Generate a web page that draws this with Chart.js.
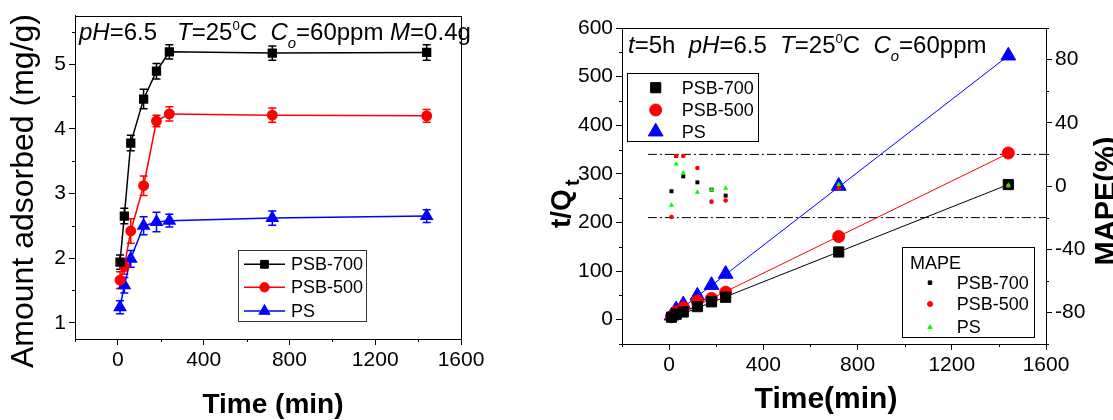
<!DOCTYPE html>
<html>
<head>
<meta charset="utf-8">
<script src="https://cdn.jsdelivr.net/npm/chart.js@4.4.1/dist/chart.umd.min.js"></script>
<style>
  body { margin: 0; background: #fff; width: 1113px; height: 420px; overflow: hidden; position: relative; }
  #left { position: absolute; left: 0; top: 0; }
  #right { position: absolute; left: 540px; top: 0; }
</style>
</head>
<body>
<canvas id="left" width="500" height="420"></canvas>
<canvas id="right" width="573" height="420"></canvas>
<script>
// sampling times (min)
const times = [10, 30, 60, 120, 180, 240, 720, 1440];

// left panel: amount adsorbed (mg/g) and error bars
const q700 = [1.94, 2.65, 3.78, 4.46, 4.89, 5.19, 5.17, 5.18];
const q500 = [1.66, 1.87, 2.42, 3.12, 4.12, 4.23, 4.21, 4.20];
const qPS  = [1.24, 1.58, 1.99, 2.50, 2.56, 2.58, 2.62, 2.65];
const err700 = [0.11, 0.12, 0.12, 0.15, 0.12, 0.11, 0.11, 0.12];
const err500 = [0.13, 0.12, 0.19, 0.15, 0.09, 0.11, 0.11, 0.10];
const errPS  = [0.10, 0.12, 0.13, 0.14, 0.15, 0.10, 0.11, 0.10];

// right panel: t/Qt
const tq700 = [5.2, 11.3, 15.9, 26.9, 36.8, 46.2, 139.3, 278.0];
const tq500 = [6.0, 16.0, 24.8, 38.5, 43.7, 56.7, 171.0, 342.9];
const tqPS  = [8.1, 21.0, 31.0, 49.0, 71.0, 94.0, 275.0, 543.0];

// linear fits (end points)
const fitT = [0, 1440];
const fit700 = [1, 278];
const fit500 = [1, 342];
const fitPS  = [3, 543];

// MAPE (%)
const mape700 = [-3.3, 19, 6.1, 2.3, -2.3, -6.1, 0, 0];
const mape500 = [-19.6, 19, 19, 11.4, -9.9, -9.2, -1.2, 0];
const mapePS  = [-12.2, 13.9, 8.2, -4, -2.3, -1.5, 0.9, 0.5];
const mapeBandT = [-90, 1600];
const mapeBand = [20, -20];

// ticks
const timeTicks = [0, 400, 800, 1200, 1600];
const timeMinor = [-200, 200, 600, 1000, 1400];
const qTicks = [1, 2, 3, 4, 5];
const qMinor = [1.5, 2.5, 3.5, 4.5, 5.5];
const tqTicks = [0, 100, 200, 300, 400, 500, 600];
const tqMinor = [-50, 50, 150, 250, 350, 450, 550];
const mapeTicks = [-80, -40, 0, 40, 80];
const mapeMinor = [-100, -60, -20, 20, 60, 100];

const fam = '"Liberation Sans", Arial, sans-serif';

function pts(xs, ys) {
  return xs.map((x, i) => ({ x: x, y: ys[i] }));
}

// draws text made of runs (italic / superscript / subscript)
function drawRuns(ctx, x, y, parts, size) {
  let cx = x;
  parts.forEach(p => {
    let s = size, dy = 0;
    if (p.sup) { s = size * 0.55; dy = -size * 0.42; }
    if (p.sub) { s = size * 0.62; dy = size * 0.35; }
    ctx.font = (p.it ? 'italic ' : '') + s + 'px ' + fam;
    ctx.fillText(p.t, cx, y + dy);
    cx += ctx.measureText(p.t).width;
  });
  return cx;
}

function axis(min, max, ticks, extra) {
  return Object.assign({
    type: 'linear', min: min, max: max,
    afterBuildTicks: s => { s.ticks = ticks.map(v => ({ value: v })); },
    ticks: { color: '#000', font: { family: fam, size: 21 }, padding: 3, autoSkip: false, maxRotation: 0, callback: v => String(v) },
    grid: { drawOnChartArea: false, tickLength: 6, color: '#000', tickColor: '#000', tickWidth: 1 },
    border: { color: '#000', width: 1 }
  }, extra);
}

// frame + minor ticks
const framePlugin = {
  id: 'frame',
  afterDraw(chart, args, opts) {
    const ctx = chart.ctx, a = chart.chartArea;
    ctx.save();
    ctx.strokeStyle = '#000';
    ctx.lineWidth = 1;
    ctx.strokeRect(Math.round(a.left) + 0.5, Math.round(a.top) + 0.5, Math.round(a.right - a.left), Math.round(a.bottom - a.top));
    (opts.minor || []).forEach(m => {
      const sc = chart.scales[m.id];
      m.values.forEach(v => {
        const p = Math.round(sc.getPixelForValue(v)) + 0.5;
        ctx.beginPath();
        if (m.id === 'x') { ctx.moveTo(p, a.bottom); ctx.lineTo(p, a.bottom + 3); }
        else if (sc.position === 'left') { ctx.moveTo(a.left, p); ctx.lineTo(a.left - 3, p); }
        else { ctx.moveTo(a.right, p); ctx.lineTo(a.right + 3, p); }
        ctx.stroke();
      });
    });
    ctx.restore();
  }
};

// error bars for the left panel
const errPlugin = {
  id: 'errbars',
  beforeDatasetsDraw(chart) {
    const ctx = chart.ctx, xs = chart.scales.x, ys = chart.scales.y;
    ctx.save();
    chart.data.datasets.forEach(ds => {
      if (!ds.err) return;
      ctx.strokeStyle = ds.borderColor;
      ctx.lineWidth = 1.5;
      ds.data.forEach((p, i) => {
        const px = xs.getPixelForValue(p.x);
        const y1 = ys.getPixelForValue(p.y + ds.err[i]);
        const y2 = ys.getPixelForValue(p.y - ds.err[i]);
        ctx.beginPath();
        ctx.moveTo(px, y1); ctx.lineTo(px, y2);
        ctx.moveTo(px - 4, y1); ctx.lineTo(px + 4, y1);
        ctx.moveTo(px - 4, y2); ctx.lineTo(px + 4, y2);
        ctx.stroke();
      });
    });
    ctx.restore();
  }
};

function marker(ctx, ds, x, y, r) {
  ctx.fillStyle = ds.backgroundColor;
  ctx.strokeStyle = ds.borderColor;
  ctx.lineWidth = 1;
  Chart.helpers.drawPoint(ctx, { pointStyle: ds.pointStyle, radius: r || ds.pointRadius, borderWidth: 1, rotation: 0 }, x, y);
}

// left panel texts + legend
const leftDeco = {
  id: 'leftDeco',
  afterDraw(chart) {
    const ctx = chart.ctx;
    ctx.save();
    ctx.fillStyle = '#000';
    ctx.textBaseline = 'alphabetic';
    ctx.textAlign = 'left';
    drawRuns(ctx, 79, 40, [
      { t: 'pH', it: 1 }, { t: '=6.5   ' }, { t: 'T', it: 1 }, { t: '=25' }, { t: '0', sup: 1 }, { t: 'C  ' },
      { t: 'C', it: 1 }, { t: 'o', it: 1, sub: 1 }, { t: '=60ppm ' }, { t: 'M', it: 1 }, { t: '=0.4g' }
    ], 24);

    // legend
    ctx.strokeStyle = '#333';
    ctx.lineWidth = 1;
    ctx.strokeRect(238.5, 250.5, 128, 71);
    const rows = [264.3, 287.3, 311];
    chart.data.datasets.forEach((ds, i) => {
      ctx.strokeStyle = ds.borderColor;
      ctx.lineWidth = 1.5;
      ctx.beginPath(); ctx.moveTo(244, rows[i]); ctx.lineTo(285, rows[i]); ctx.stroke();
      marker(ctx, ds, 264.5, rows[i]);
      ctx.fillStyle = '#000';
      ctx.font = '18px ' + fam;
      ctx.textBaseline = 'middle';
      ctx.fillText(ds.label, 291, rows[i] + 1);
    });

    // axis titles
    ctx.textBaseline = 'middle';
    ctx.textAlign = 'center';
    ctx.font = 'bold 28px ' + fam;
    ctx.fillText('Time (min)', 273, 405);
    ctx.translate(24, 191);
    ctx.rotate(-Math.PI / 2);
    ctx.font = '32px ' + fam;
    ctx.fillText('Amount adsorbed (mg/g)', 0, 0);
    ctx.restore();
  }
};

new Chart(document.getElementById('left'), {
  type: 'line',
  data: {
    datasets: [
      { label: 'PSB-700', data: pts(times, q700), err: err700, borderColor: '#000', backgroundColor: '#000', pointStyle: 'rect', pointRadius: 5.5, borderWidth: 1.5, tension: 0 },
      { label: 'PSB-500', data: pts(times, q500), err: err500, borderColor: '#ff0000', backgroundColor: '#ff0000', pointStyle: 'circle', pointRadius: 4.7, borderWidth: 1.5, tension: 0 },
      { label: 'PS', data: pts(times, qPS), err: errPS, borderColor: '#0000ff', backgroundColor: '#0000ff', pointStyle: 'triangle', pointRadius: 6.5, borderWidth: 1.5, tension: 0 }
    ]
  },
  options: {
    responsive: false,
    animation: false,
    layout: { padding: { top: 13, right: 39, left: 0, bottom: 0 } },
    plugins: { legend: { display: false }, tooltip: { enabled: false }, frame: { minor: [{ id: 'x', values: timeMinor }, { id: 'y', values: qMinor }] } },
    scales: {
      x: axis(-200, 1600, timeTicks, { afterFit: s => { s.height = 81; } }),
      y: axis(0.75, 5.75, qTicks, { afterFit: s => { s.width = 75; } })
    }
  },
  plugins: [errPlugin, framePlugin, leftDeco]
});

// right panel texts + legends
const rightDeco = {
  id: 'rightDeco',
  afterDraw(chart) {
    const ctx = chart.ctx;
    const ds = chart.data.datasets;
    ctx.save();
    ctx.fillStyle = '#000';
    ctx.textAlign = 'left';
    ctx.textBaseline = 'alphabetic';
    drawRuns(ctx, 88, 53, [
      { t: 't', it: 1 }, { t: '=5h  ' }, { t: 'pH', it: 1 }, { t: '=6.5  ' }, { t: 'T', it: 1 }, { t: '=25' }, { t: '0', sup: 1 },
      { t: 'C  ' }, { t: 'C', it: 1 }, { t: 'o', it: 1, sub: 1 }, { t: '=60ppm' }
    ], 24);

    // legend for t/Qt
    ctx.strokeStyle = '#000';
    ctx.lineWidth = 1;
    ctx.strokeRect(87.5, 73.5, 131, 68);
    const rows1 = [87.7, 110, 131.7];
    [3, 4, 5].forEach((k, i) => {
      marker(ctx, ds[k], 115.7, rows1[i]);
      ctx.fillStyle = '#000';
      ctx.font = '18px ' + fam;
      ctx.textBaseline = 'middle';
      ctx.fillText(ds[k].label, 141.7, rows1[i] + 1);
    });

    // legend for MAPE
    ctx.strokeStyle = '#000';
    ctx.lineWidth = 1;
    ctx.strokeRect(362.5, 247.5, 132, 90);
    ctx.fillStyle = '#000';
    ctx.font = '18px ' + fam;
    ctx.fillText('MAPE', 370, 264);
    const rows2 = [282.7, 304, 327.3];
    [2, 1, 0].forEach((k, i) => {
      marker(ctx, ds[k], 390, rows2[i], 2.5);
      ctx.fillStyle = '#000';
      ctx.font = '18px ' + fam;
      ctx.fillText(ds[k].label, 416.7, rows2[i] + 1);
    });

    // axis titles
    ctx.textAlign = 'center';
    ctx.textBaseline = 'middle';
    ctx.font = 'bold 30px ' + fam;
    ctx.fillText('Time(min)', 286, 400);

    ctx.save();
    ctx.translate(30, 228);
    ctx.rotate(-Math.PI / 2);
    ctx.textAlign = 'left';
    ctx.textBaseline = 'alphabetic';
    ctx.font = 'bold 28px ' + fam;
    ctx.fillText('t/Q', 0, 0);
    const w = ctx.measureText('t/Q').width;
    ctx.font = 'bold 20px ' + fam;
    ctx.fillText('t', w + 3, 9);
    ctx.restore();

    ctx.save();
    ctx.translate(575, 201);
    ctx.rotate(-Math.PI / 2);
    ctx.textAlign = 'center';
    ctx.textBaseline = 'alphabetic';
    ctx.font = 'bold 29px ' + fam;
    ctx.fillText('MAPE(%)', 0, 0);
    ctx.restore();
    ctx.restore();
  }
};

new Chart(document.getElementById('right'), {
  type: 'scatter',
  data: {
    datasets: [
      { label: 'PS', data: pts(times, mapePS), yAxisID: 'y2', backgroundColor: '#00ff00', borderColor: '#00ff00', pointStyle: 'triangle', pointRadius: 3, borderWidth: 0 },
      { label: 'PSB-500', data: pts(times, mape500), yAxisID: 'y2', backgroundColor: '#ff0000', borderColor: '#ff0000', pointStyle: 'circle', pointRadius: 2.3, borderWidth: 0 },
      { label: 'PSB-700', data: pts(times, mape700), yAxisID: 'y2', backgroundColor: '#000', borderColor: '#000', pointStyle: 'rect', pointRadius: 2.8, borderWidth: 0 },
      { label: 'PSB-700', data: pts(times, tq700), yAxisID: 'y', backgroundColor: '#000', borderColor: '#000', pointStyle: 'rect', pointRadius: 7.2, borderWidth: 1 },
      { label: 'PSB-500', data: pts(times, tq500), yAxisID: 'y', backgroundColor: '#ff0000', borderColor: '#ff0000', pointStyle: 'circle', pointRadius: 6, borderWidth: 1 },
      { label: 'PS', data: pts(times, tqPS), yAxisID: 'y', backgroundColor: '#0000ff', borderColor: '#0000ff', pointStyle: 'triangle', pointRadius: 8.5, borderWidth: 1 },
      { data: pts(fitT, fitPS), yAxisID: 'y', showLine: true, borderColor: '#0000ff', borderWidth: 1, pointRadius: 0 },
      { data: pts(fitT, fit500), yAxisID: 'y', showLine: true, borderColor: '#ff0000', borderWidth: 1, pointRadius: 0 },
      { data: pts(fitT, fit700), yAxisID: 'y', showLine: true, borderColor: '#000', borderWidth: 1, pointRadius: 0 },
      { data: pts(mapeBandT, [mapeBand[0], mapeBand[0]]), yAxisID: 'y2', showLine: true, borderColor: '#000', borderWidth: 1, borderDash: [9, 3, 2, 3], pointRadius: 0 },
      { data: pts(mapeBandT, [mapeBand[1], mapeBand[1]]), yAxisID: 'y2', showLine: true, borderColor: '#000', borderWidth: 1, borderDash: [9, 3, 2, 3], pointRadius: 0 }
    ]
  },
  options: {
    responsive: false,
    animation: false,
    layout: { padding: { top: 28, right: 0, left: 0, bottom: 0 } },
    plugins: {
      legend: { display: false }, tooltip: { enabled: false },
      frame: { minor: [{ id: 'x', values: timeMinor }, { id: 'y', values: tqMinor }, { id: 'y2', values: mapeMinor }] }
    },
    scales: {
      x: axis(-200, 1600, timeTicks, { afterFit: s => { s.height = 76; } }),
      y: axis(-50, 600, tqTicks, { position: 'left', afterFit: s => { s.width = 82; } }),
      y2: axis(-100, 100, mapeTicks, { position: 'right', afterFit: s => { s.width = 67; } })
    }
  },
  plugins: [framePlugin, rightDeco]
});
</script>
</body>
</html>
